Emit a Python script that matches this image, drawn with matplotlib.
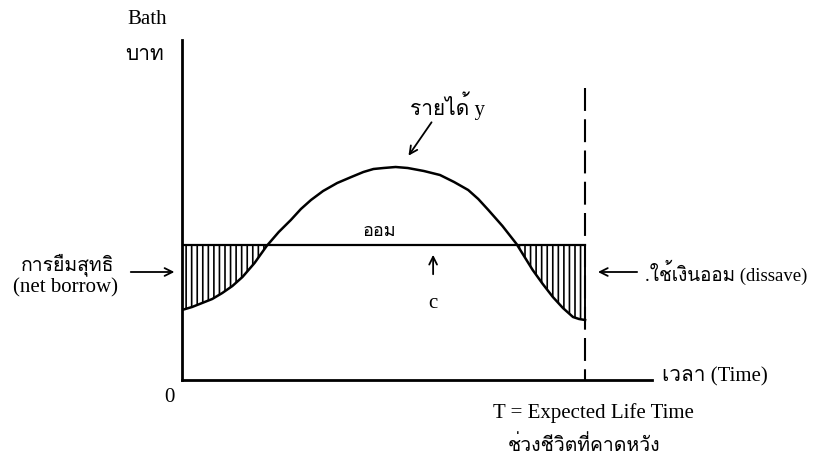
import numpy as np
import matplotlib
matplotlib.use('Agg')
import matplotlib.pyplot as plt
from matplotlib import font_manager
from matplotlib.ft2font import FT2Font

# time runs 0 .. T (=100)
t = [0, 2.5, 5, 7.5, 10, 12.5, 15, 18, 21, 24, 27, 29.5, 32, 35, 38.5, 42, 45, 47.5,
     50, 53, 56, 60, 64, 67.5, 71, 73.5, 76, 79.5, 83, 85, 87, 89.5, 92, 94.5, 97, 98.5, 100]
income = [70, 73, 77, 81, 87, 94, 103, 117, 134, 148, 160, 171, 180, 189, 197, 203, 208, 211,
          212, 213, 212, 209, 205, 198, 190, 181, 170, 154, 136, 123, 110, 96, 83, 72, 63, 61, 60]
c_level = 135
T_end = 100


def thai_font():
    # pick any installed font that has Thai glyphs
    for f in font_manager.fontManager.ttflist:
        try:
            if 0x0E32 in FT2Font(f.fname).get_charmap():
                return f.name
        except Exception:
            pass
    return 'DejaVu Sans'


thai = thai_font()
fams = ['Liberation Serif', thai, 'DejaVu Sans']
plt.rcParams['hatch.linewidth'] = 1.2

fig = plt.figure(figsize=(8.2, 4.59), dpi=100)
ax = fig.add_axes([182/820, 79/459, 470/820, 340/459])
ax.set_xlim(0, 116.6)
ax.set_ylim(0, 340)
for s in ['top', 'right']:
    ax.spines[s].set_visible(False)
ax.spines['left'].set_linewidth(2)
ax.spines['bottom'].set_linewidth(2)
ax.set_xticks([])
ax.set_yticks([])

tt = np.array(t)
yy = np.array(income)
ax.plot(tt, yy, color='black', lw=1.8)
ax.plot([0, T_end], [c_level, c_level], color='black', lw=1.6)
ax.fill_between(tt, yy, c_level, where=yy < c_level, interpolate=True,
                facecolor='none', edgecolor='black', hatch='|||', linewidth=0)
ax.plot([T_end, T_end], [income[-1], c_level], color='black', lw=1.4)
ax.plot([T_end, T_end], [292, 0], color='black', lw=1.5, dashes=(11, 4))

ap = dict(arrowstyle='->', lw=1.3, color='black', mutation_scale=14)
ax.annotate('', xy=(-1.2, 108), xytext=(-13.4, 108), arrowprops=ap, annotation_clip=False)
ax.annotate('', xy=(102.5, 108), xytext=(113.6, 108), arrowprops=ap, annotation_clip=False)
ax.annotate('', xy=(62.3, 128), xytext=(62.3, 103), arrowprops=ap)
ax.annotate('', xy=(55.8, 222), xytext=(62.3, 260), arrowprops=ap)

fs = 15
ax.text(-8.7, 360, 'Bath', family=fams, fontsize=fs, ha='center', va='center', clip_on=False)
ax.text(-9.2, 325, 'บาท', family=fams, fontsize=fs, ha='center', va='center', clip_on=False)
ax.text(-3.0, -18, '0', family=fams, fontsize=fs, ha='center', va='center', clip_on=False)
ax.text(65.8, 274, 'รายได้ y', family=fams, fontsize=fs, ha='center', va='center')
ax.text(49.1, 149, 'ออม', family=fams, fontsize=fs - 2, ha='center', va='center')
ax.text(62.3, 77, 'c', family=fams, fontsize=fs, ha='center', va='center')
ax.text(-28.3, 115, 'การยืมสุทธิ', family=fams, fontsize=fs - 1, ha='center', va='center', clip_on=False)
ax.text(-28.8, 92, '(net borrow)', family=fams, fontsize=fs, ha='center', va='center', clip_on=False)
ax.text(114.8, 108, '.ใช้เงินออม (dissave)', family=fams, fontsize=fs - 1.5, ha='left', va='center', clip_on=False)
ax.text(119.1, 3, 'เวลา (Time)', family=fams, fontsize=fs, ha='left', va='center', clip_on=False)
ax.text(102, -33, 'T = Expected Life Time', family=fams, fontsize=fs, ha='center', va='center', clip_on=False)
ax.text(99.8, -65, 'ช่วงชีวิตที่คาดหวัง', family=fams, fontsize=fs - 1, ha='center', va='center', clip_on=False)

fig.savefig('out.png', dpi=100)
